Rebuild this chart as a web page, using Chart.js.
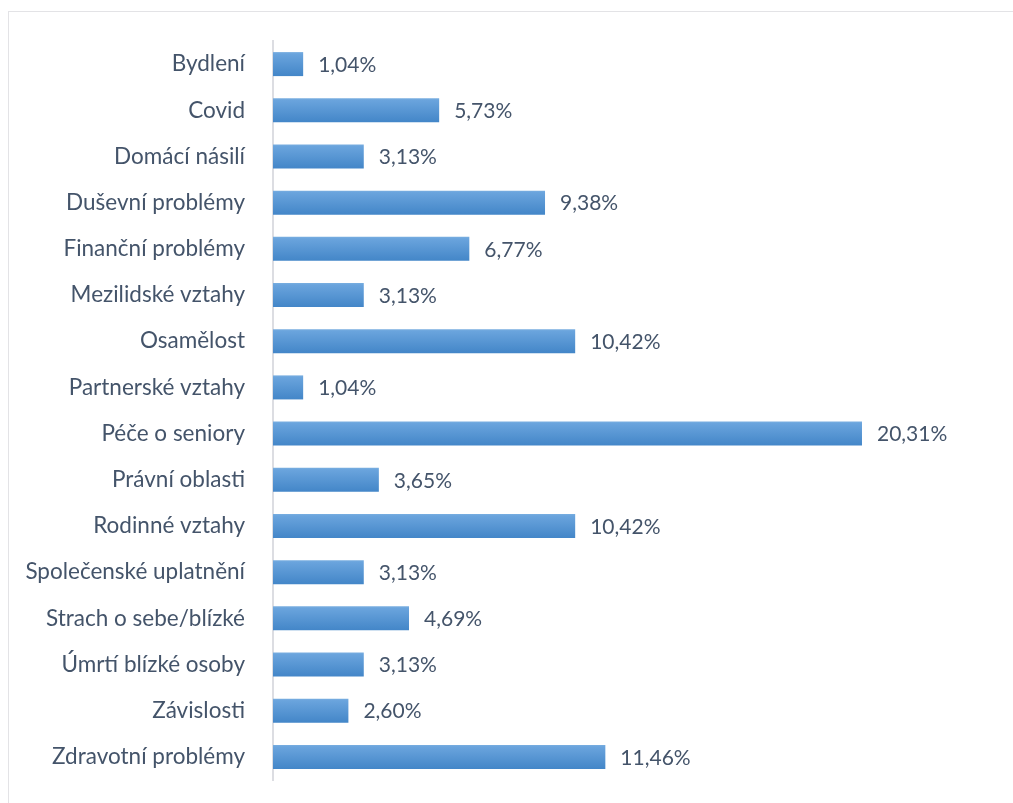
<!DOCTYPE html>
<html>
<head>
<meta charset="utf-8">
<script src="https://cdn.jsdelivr.net/npm/chart.js@4"></script>
<style>
  html, body { margin: 0; padding: 0; background: #fff; overflow: hidden; }
  #frame { position: absolute; left: 8px; top: 11px; width: 1200px; height: 1000px; border: 1px solid #e3e3e6; box-sizing: border-box; }
  #wrap { position: absolute; left: 0; top: 0; width: 1013px; height: 803px; }
</style>
</head>
<body>
<div id="frame"></div>
<div id="wrap"><canvas id="c" width="1013" height="803"></canvas></div>
<script>
const categories = [
  "Bydlení", "Covid", "Domácí násilí", "Duševní problémy", "Finanční problémy",
  "Mezilidské vztahy", "Osamělost", "Partnerské vztahy", "Péče o seniory",
  "Právní oblasti", "Rodinné vztahy", "Společenské uplatnění", "Strach o sebe/blízké",
  "Úmrtí blízké osoby", "Závislosti", "Zdravotní problémy"
];
const values = [1.04, 5.73, 3.13, 9.38, 6.77, 3.13, 10.42, 1.04, 20.31, 3.65, 10.42, 3.13, 4.69, 3.13, 2.60, 11.46];

const FONT = "Lato, 'Open Sans', sans-serif";
const TEXT = "#44546a";

function barGradient(ctx, yc, h) {
  const g = ctx.createLinearGradient(0, yc - h / 2, 0, yc + h / 2);
  g.addColorStop(0, '#79aee0');
  g.addColorStop(0.08, '#6aa4dd');
  g.addColorStop(1, '#4386c8');
  return g;
}

const gradientBars = {
  id: 'gradientBars',
  beforeDatasetsDraw(chart) {
    const meta = chart.getDatasetMeta(0);
    meta.data.forEach((el) => {
      if (isFinite(el.y) && isFinite(el.height)) {
        el.options.backgroundColor = barGradient(chart.ctx, el.y, el.height);
      }
    });
  }
};

const valueLabels = {
  id: 'valueLabels',
  afterDatasetsDraw(chart) {
    const ctx = chart.ctx;
    const meta = chart.getDatasetMeta(0);
    ctx.save();
    ctx.font = "21px " + FONT;
    ctx.fillStyle = TEXT;
    ctx.textBaseline = 'middle';
    ctx.textAlign = 'left';
    meta.data.forEach((el, i) => {
      const t = values[i].toFixed(2).replace('.', ',') + '%';
      ctx.fillText(t, el.x + 15, el.y + 1);
    });
    ctx.restore();
  }
};

new Chart(document.getElementById('c'), {
  type: 'bar',
  data: {
    labels: categories,
    datasets: [{
      data: values,
      barPercentage: 0.52,
      categoryPercentage: 1,
      borderWidth: 0,
      backgroundColor: (c) => (c.dataIndex >= 0 ? '#5b9bd5' : '#5b9bd5')
    }]
  },
  options: {
    indexAxis: 'y',
    responsive: false,
    animation: false,
    devicePixelRatio: 1,
    layout: { padding: { left: 0, right: 44, top: 41, bottom: 23 } },
    plugins: { legend: { display: false }, tooltip: { enabled: false } },
    scales: {
      x: { display: false, min: 0, max: 24 },
      y: {
        afterFit(scale) { scale.width = 273; scale.paddingTop = 0; scale.paddingBottom = 0; },
        grid: { display: false },
        border: { display: true, color: '#dcdde2', width: 2 },
        ticks: { color: TEXT, font: { family: FONT, size: 22.5 }, padding: 20, autoSkip: false }
      }
    }
  },
  plugins: [gradientBars, valueLabels]
});
</script>
</body>
</html>
